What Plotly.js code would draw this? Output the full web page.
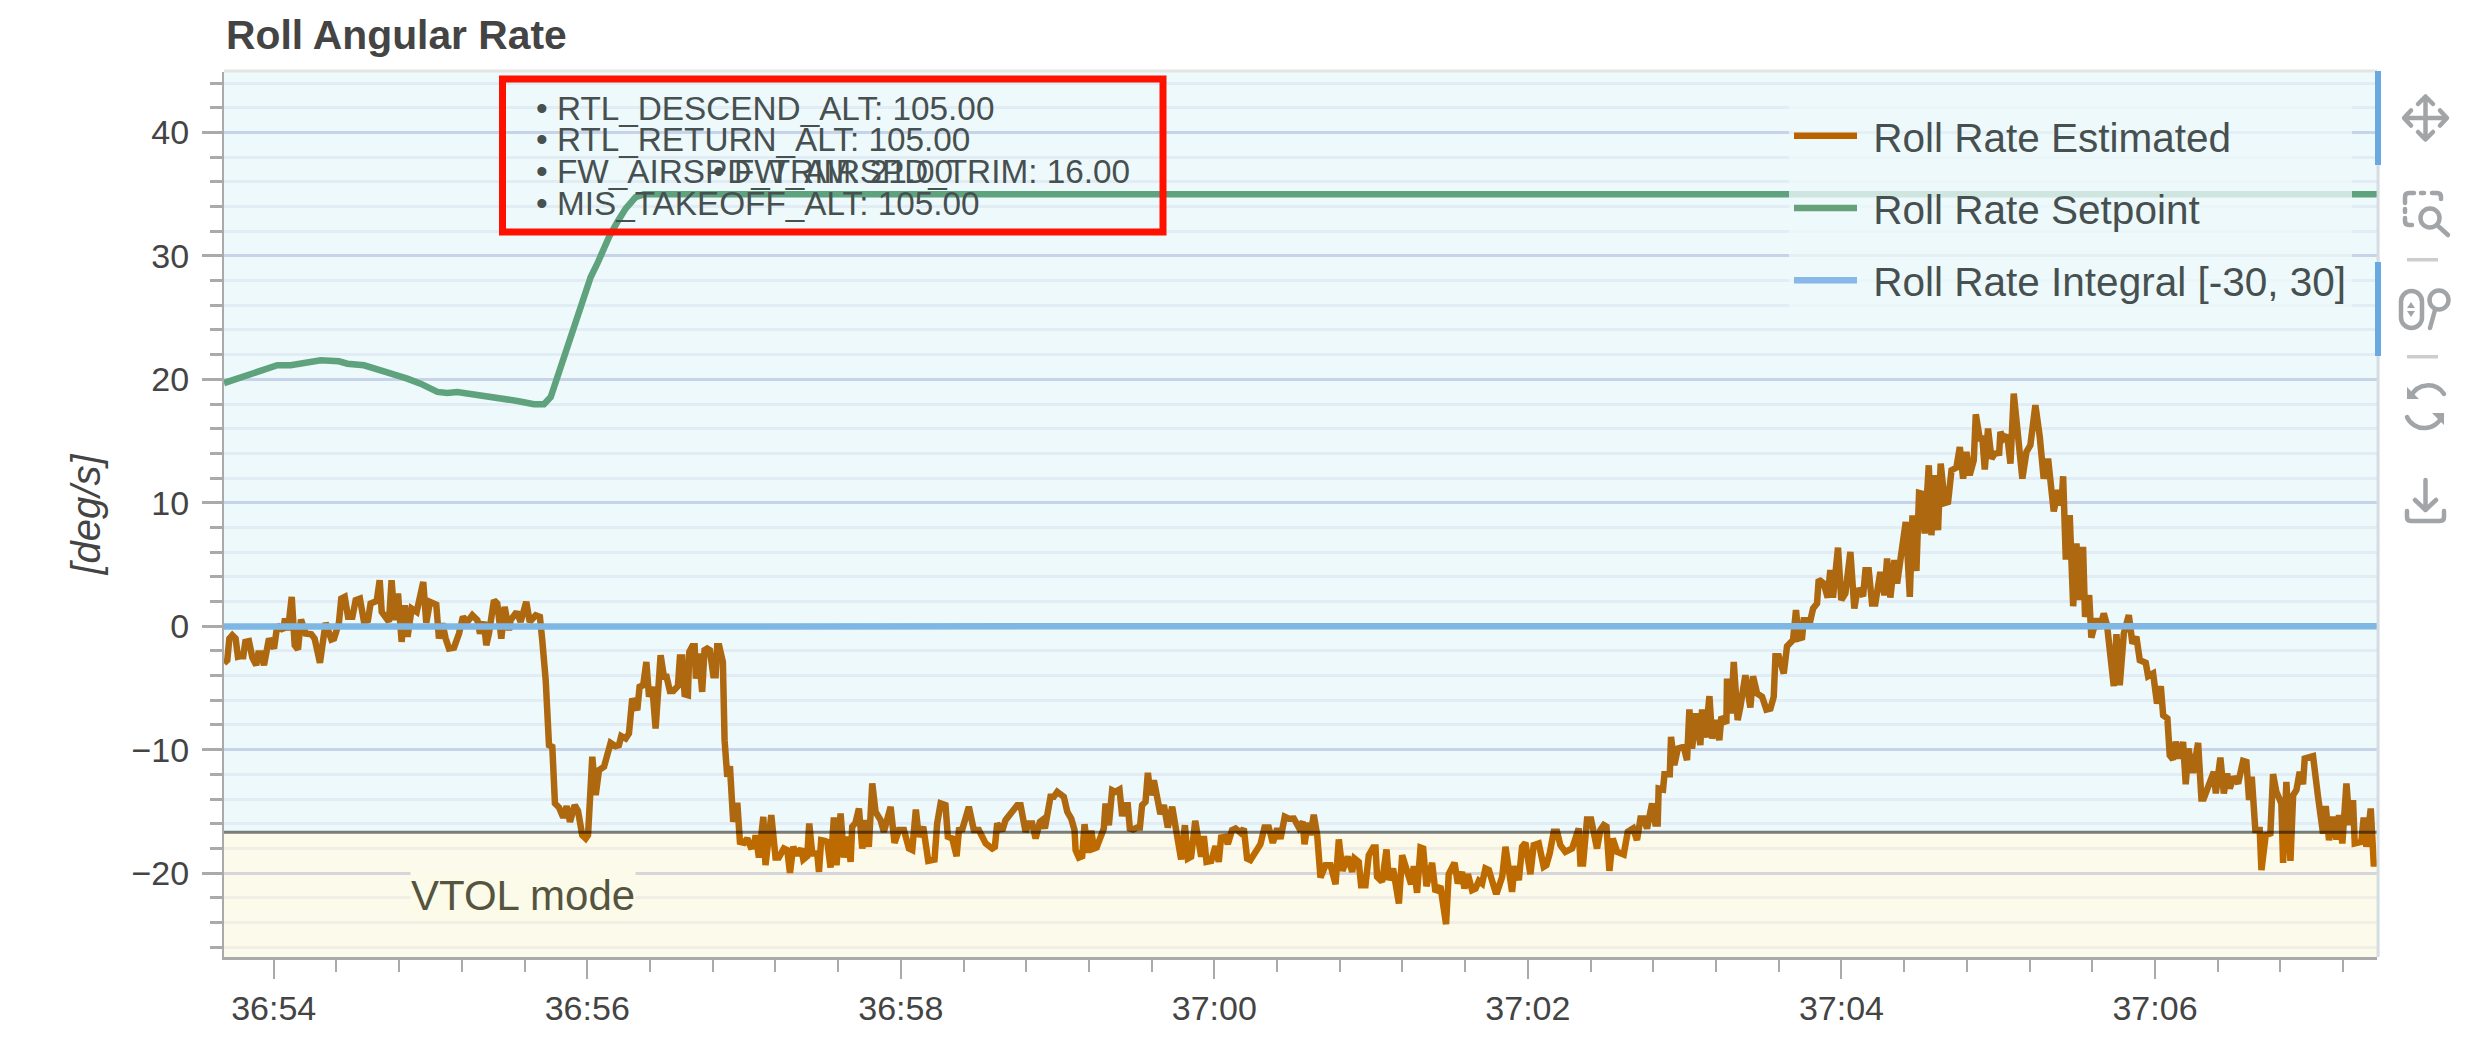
<!DOCTYPE html>
<html><head><meta charset="utf-8">
<script src="https://cdn.plot.ly/plotly-3.0.1.min.js"></script>
<style>html,body{margin:0;padding:0;background:#fff;overflow:hidden}#chart{width:2481px;height:1042px}</style>
</head><body><div id="chart"></div>
<script>
// seconds relative to 36:54
const estimatedT=[-0.317,-0.296,-0.283,-0.264,-0.243,-0.228,-0.211,-0.194,-0.181,-0.158,-0.136,-0.111,-0.098,-0.079,-0.062,-0.030,0.002,0.023,0.061,0.072,0.091,0.115,0.134,0.155,0.174,0.204,0.240,0.261,0.295,0.331,0.368,0.385,0.416,0.431,0.453,0.474,0.502,0.523,0.550,0.576,0.601,0.618,0.657,0.676,0.689,0.735,0.752,0.771,0.793,0.816,0.837,0.854,0.880,0.912,0.954,0.973,0.997,1.037,1.054,1.076,1.097,1.118,1.150,1.182,1.207,1.235,1.267,1.299,1.316,1.341,1.356,1.373,1.405,1.426,1.452,1.473,1.501,1.511,1.550,1.575,1.611,1.633,1.671,1.698,1.713,1.735,1.756,1.777,1.794,1.820,1.847,1.869,1.890,1.920,1.941,1.968,1.990,2.005,2.032,2.054,2.075,2.107,2.149,2.181,2.202,2.217,2.245,2.266,2.287,2.319,2.334,2.357,2.377,2.394,2.415,2.436,2.468,2.489,
2.506,2.527,2.549,2.578,2.591,2.606,2.621,2.642,2.651,2.670,2.685,2.693,2.712,2.733,2.748,2.765,2.782,2.804,2.819,2.829,2.842,2.865,2.876,2.893,2.910,2.931,2.957,2.974,3.000,3.021,3.042,3.063,3.074,3.095,3.123,3.137,3.174,3.201,3.222,3.254,3.276,3.293,3.314,3.339,3.365,3.378,3.403,3.416,3.435,3.467,3.478,3.492,3.514,3.531,3.552,3.573,3.590,3.616,3.637,3.658,3.680,3.690,3.711,3.733,3.754,3.775,3.796,3.818,3.839,3.871,3.892,3.935,3.960,3.988,4.020,4.052,4.073,4.096,4.115,4.143,4.175,4.215,4.232,4.254,4.285,4.300,4.328,4.356,4.371,4.392,4.434,4.466,4.498,4.541,4.583,4.600,4.615,4.647,4.668,4.711,4.743,4.764,4.796,4.817,4.838,4.860,4.887,4.902,4.919,4.955,4.976,4.998,5.040,5.062,5.087,5.108,5.115,5.136,5.157,5.172,5.193,5.215,5.232,5.249,5.274,5.295,
5.306,5.327,5.348,5.369,5.395,5.412,5.427,5.448,5.461,5.482,5.508,5.525,5.539,5.561,5.576,5.593,5.614,5.639,5.656,5.678,5.703,5.731,5.758,5.788,5.812,5.831,5.852,5.878,5.916,5.933,5.950,5.980,6.007,6.028,6.043,6.071,6.086,6.113,6.135,6.167,6.188,6.209,6.230,6.252,6.294,6.320,6.347,6.373,6.401,6.422,6.449,6.475,6.507,6.539,6.564,6.575,6.596,6.613,6.634,6.656,6.677,6.709,6.741,6.773,6.794,6.817,6.851,6.879,6.894,6.921,6.936,6.964,6.985,7.013,7.028,7.038,7.070,7.098,7.113,7.140,7.177,7.198,7.219,7.255,7.272,7.293,7.315,7.332,7.353,7.389,7.410,7.442,7.478,7.495,7.532,7.553,7.580,7.595,7.617,7.644,7.666,7.687,7.708,7.729,7.751,7.793,7.804,7.836,7.857,7.899,7.914,7.942,7.963,7.984,8.016,8.037,8.069,8.101,
8.118,8.139,8.165,8.186,8.207,8.239,8.282,8.314,8.324,8.335,8.352,8.377,8.403,8.441,8.462,8.484,8.501,8.520,8.541,8.569,8.611,8.637,8.671,8.696,8.718,8.739,8.760,8.792,8.813,8.828,8.834,8.862,8.871,8.905,8.913,8.934,8.956,8.994,9.015,9.030,9.047,9.073,9.100,9.111,9.132,9.158,9.175,9.200,9.221,9.234,9.266,9.270,9.296,9.313,9.338,9.355,9.387,9.419,9.436,9.462,9.494,9.521,9.547,9.568,9.579,9.600,9.632,9.653,9.691,9.710,9.727,9.749,9.759,9.802,9.819,9.844,9.855,9.887,9.912,9.929,9.946,9.978,9.999,10.025,10.057,10.082,10.104,10.138,10.153,10.174,10.195,10.216,10.248,10.274,10.291,10.312,10.338,10.355,
10.389,10.410,10.436,10.453,10.478,10.495,10.510,10.531,10.557,10.574,10.591,10.616,10.633,10.659,10.680,10.702,10.733,10.755,10.776,10.797,10.818,10.844,10.857,10.882,10.899,10.914,10.935,10.957,10.978,11.006,11.014,11.035,11.057,11.078,11.099,11.127,11.154,11.180,11.205,11.237,11.265,11.290,11.318,11.354,11.382,11.403,11.414,11.431,11.456,11.478,11.499,11.520,11.541,11.554,11.580,11.594,11.626,11.648,11.673,11.694,11.737,11.754,11.775,11.801,11.833,11.856,11.881,11.903,11.941,11.956,11.988,12.013,12.037,12.052,12.079,12.094,12.115,12.132,12.158,12.179,12.196,12.213,12.243,12.275,12.296,12.311,12.345,12.375,12.388,12.417,12.439,12.460,12.477,12.502,12.530,12.562,12.583,12.600,12.617,12.640,12.668,12.679,12.706,12.736,12.753,12.774,12.806,12.817,12.838,12.864,12.881,12.902,12.923,12.944,12.955,13.008,13.040,13.072,13.089,13.110,13.136,13.157,13.174,13.195,13.221,13.242,13.263,13.274,13.316,13.331,13.348,13.376,13.395,13.416];
const estimatedV=[-3.0,-2.75,-1.0,-0.73,-1.0,-2.48,-2.43,-2.43,-1.27,-1.21,-2.54,-3.16,-2.21,-2.21,-3.16,-1.0,-1.81,0.08,-0.32,0.62,-0.32,2.38,-1.54,-1.89,0.54,-0.59,-0.65,-1.0,-2.97,0.27,-1.08,-1.0,0.27,2.24,2.38,0.76,0.76,2.11,2.24,0.35,0.49,1.84,2.05,3.73,1.16,0.35,3.73,0.49,2.65,-1.27,1.70,-0.86,1.43,1.16,3.59,0.27,1.97,1.75,-1.0,0.22,-1.0,-1.81,-1.73,-0.59,0.76,0.35,0.89,0.49,-0.59,0.35,-1.54,-0.59,2.11,1.84,-1.0,1.57,-0.32,0.49,1.16,0.35,1.97,0.35,0.89,0.76,-1.13,-4.37,-9.64,-9.77,-14.36,-14.69,-15.50,-14.58,-15.85,-14.50,-14.96,-16.93,-17.20,-16.93,-10.58,-13.69,-11.66,-11.39,-9.45,-9.72,-9.64,-8.91,-9.10,-8.69,-5.86,-6.80,-4.91,-4.78,-2.89,-5.72,-4.91,-8.29,-2.35,-4.10,
-4.10,-5.24,-5.24,-4.86,-2.54,-2.54,-5.51,-5.59,-2.08,-1.62,-1.62,-4.24,-2.21,-5.32,-1.94,-1.81,-1.94,-3.97,-3.97,-1.62,-1.62,-2.89,-9.23,-12.20,-11.34,-15.85,-14.31,-17.47,-17.55,-17.20,-17.87,-17.82,-16.93,-18.74,-15.44,-19.36,-15.31,-18.74,-18.74,-18.01,-18.14,-19.98,-17.87,-18.55,-18.01,-18.90,-18.63,-15.98,-18.41,-18.41,-19.90,-17.33,-17.39,-17.47,-19.55,-15.50,-19.36,-15.17,-18.74,-17.06,-19.09,-16.25,-15.93,-14.77,-18.01,-15.71,-17.87,-12.74,-15.04,-15.71,-16.66,-14.63,-17.55,-16.52,-16.52,-18.01,-18.14,-14.85,-17.06,-16.25,-19.01,-18.90,-15.98,-14.36,-14.50,-17.06,-17.20,-18.63,-16.52,-16.47,-14.63,-16.52,-16.52,-17.60,-18.01,-17.87,-15.98,-16.58,-15.71,-15.04,-14.50,-14.50,-16.66,-15.98,-15.98,-17.20,-15.85,-15.71,-16.39,-13.82,-13.82,-13.42,-13.82,-15.04,-15.58,-16.52,-18.14,-18.74,-18.63,-16.04,-18.36,-16.58,-18.01,-17.93,-16.93,-16.39,
-14.37,-16.12,-13.29,-13.42,-13.23,-15.39,-14.50,-14.50,-16.39,-16.47,-16.31,-16.31,-14.50,-14.23,-11.88,-13.69,-12.48,-14.50,-15.23,-14.50,-16.31,-14.63,-16.52,-18.90,-16.12,-18.82,-18.68,-15.77,-18.68,-17.01,-19.09,-19.01,-17.82,-19.09,-17.12,-17.07,-17.66,-16.52,-16.39,-16.74,-16.39,-18.82,-18.95,-18.55,-17.66,-16.31,-16.31,-17.55,-16.39,-17.23,-15.44,-15.60,-15.58,-16.31,-15.85,-17.66,-15.93,-16.93,-15.28,-16.93,-20.36,-19.36,-19.36,-20.90,-17.28,-19.82,-18.68,-19.90,-18.82,-19.09,-20.98,-20.98,-18.55,-17.93,-17.93,-20.30,-20.71,-18.09,-20.57,-19.63,-22.46,-18.55,-19.49,-20.90,-19.44,-21.60,-17.93,-18.01,-21.06,-19.17,-21.52,-21.06,-24.14,-20.09,-19.17,-20.84,-19.90,-21.25,-20.09,-21.38,-21.25,-20.63,-20.84,-19.63,-19.76,-21.52,-21.52,-20.30,-17.87,-21.52,-19.44,-20.57,-17.87,-17.55,-20.09,-17.74,-17.60,-19.49,
-19.36,-18.41,-16.66,-16.66,-17.74,-18.28,-18.01,-16.39,-16.39,-19.22,-19.22,-15.66,-15.66,-18.01,-16.52,-16.12,-16.25,-19.82,-17.20,-18.28,-18.49,-16.66,-16.39,-17.33,-15.58,-15.58,-16.39,-14.36,-15.98,-15.98,-13.15,-13.23,-11.99,-11.99,-8.96,-11.26,-9.91,-9.77,-10.85,-6.75,-9.91,-7.07,-9.64,-6.75,-9.02,-5.67,-9.10,-7.61,-9.23,-7.34,-7.88,-4.24,-7.07,-2.89,-7.61,-6.53,-3.97,-6.59,-4.05,-5.45,-5.72,-6.75,-6.67,-5.72,-2.43,-2.43,-3.83,-1.62,-1.13,1.30,-1.0,-0.92,0.49,0.49,1.43,1.84,3.78,3.46,2.32,4.54,2.32,6.37,2.11,2.65,6.02,1.43,3.05,2.43,4.54,4.54,1.84,1.84,4.40,2.51,5.48,2.32,5.35,3.46,
7.24,8.45,2.38,8.99,4.48,10.80,10.75,7.51,13.04,7.37,12.23,7.78,13.17,9.99,10.07,12.64,12.85,14.52,11.96,14.12,12.23,13.44,17.17,15.20,15.20,12.69,16.01,13.58,13.98,14.04,15.74,15.20,15.47,13.17,18.84,15.60,11.96,14.12,14.66,17.90,15.33,11.96,13.58,9.31,11.02,9.80,12.15,5.40,8.99,1.62,6.70,2.11,6.43,0.76,2.51,-0.92,0.62,-0.19,1.03,0.08,-4.86,-0.65,-4.78,-0.59,0.89,-1.40,-0.86,-2.75,-2.97,-4.05,-3.83,-6.26,-4.86,-7.21,-7.48,-10.45,-10.80,-9.37,-10.72,-9.37,-12.80,-9.91,-11.88,-9.45,-13.96,-13.96,-12.88,-11.80,-13.55,-10.64,-13.55,-11.93,-13.15,-12.20,-12.74,-10.91,-10.99,-14.09,-12.20,-16.52,-16.52,-19.76,-16.93,-16.79,-11.99,-13.42,-14.36,-19.17,-12.61,-19.01,-13.69,-13.28,-11.80,-12.80,-10.72,-10.53,-13.82,-16.79,-14.58,-17.33,-15.44,-17.28,-15.31,-17.60,-12.74,-16.12,-14.09,-17.60,-17.47,-15.50,-17.87,-14.77,-19.22,-19.22];
const setpointT=[-0.317,-0.232,-0.126,-0.041,0.023,0.108,0.215,0.300,0.416,0.470,0.576,0.661,0.703,0.852,0.937,1.044,1.107,1.171,1.256,1.352,1.448,1.554,1.660,1.724,1.767,1.788,1.820,1.852,1.883,1.915,1.958,1.990,2.022,2.064,2.096,2.139,2.192,2.245,2.309,2.362,13.416];
const setpointV=[19.7,20.06,20.6,21.0,21.14,21.14,21.33,21.54,21.46,21.27,21.14,20.87,20.65,20.06,19.65,18.98,18.90,18.98,18.84,18.57,18.47,18.25,17.98,17.98,18.57,19.38,20.46,21.68,23.03,24.24,25.73,27.21,28.29,29.37,30.45,31.53,32.75,33.83,34.77,34.99,34.99];
const integralT=[-0.317,3.0,6.0,9.0,10.9,11.4,12.0,13.416];
const integralV=[-0.02,0.0,0.0,0.0,-0.02,-0.05,-0.01,0.0];
const seriesNames=['\u00a0Roll Rate Estimated','\u00a0Roll Rate Setpoint','\u00a0Roll Rate Integral [-30, 30]'];
const seriesColors=['#bb6200','#65a179','#87b8e8'];
const paramLines=['RTL_DESCEND_ALT: 105.00','RTL_RETURN_ALT: 105.00','FW_AIRSPD_TRIM: 21.00','MIS_TAKEOFF_ALT: 105.00'];
const paramLineExtra='FW_AIRSPD_TRIM: 16.00';
const modeBoundary=-16.69;
const modeLabel='VTOL mode';
const xTickSeconds=2, xMinorSeconds=0.4;
const xRangeSec=[-0.317,13.416], yRange=[-26.8,44.9];

const BASE=2214000; // 00:36:54 in ms
const toX=a=>a.map(s=>BASE+s*1000);
const W=2481,H=1042,L=224,R=2377,T=72,B=957;
const px=x=>(x-L)/(R-L), py=y=>(B-y)/(B-T);
const FONT='"Liberation Sans", Arial, sans-serif';

const traces=[[estimatedT,estimatedV,6.5],[setpointT,setpointV,6.5],[integralT,integralV,6.5]].map((d,i)=>({
  x:toX(d[0]),y:d[1],type:'scatter',mode:'lines',name:seriesNames[i],legendgroup:'g'+i,
  line:{color:seriesColors[i],width:d[2]},hoverinfo:'skip'
}));

const toolbar=`<svg xmlns="http://www.w3.org/2000/svg" width="111" height="470" viewBox="0 0 111 470">
<rect x="37" y="188" width="31" height="3.5" fill="#cdcdcd"/><rect x="37" y="285" width="31" height="3.5" fill="#cdcdcd"/>
<g fill="none" stroke="#a2a5a8" stroke-width="4.5" stroke-linecap="round" stroke-linejoin="round">
<path d="M35 48H76M55.5 28V68M48 34l7.5-7.5L63 34M48 62l7.5 7.5L63 62M41 40.5L34 48l7 7.5M70 40.5L77 48l-7 7.5"/>
<path d="M35 133v-6q0-4 4-4h5M51 123h3M62 123h5q4 0 4 4v2M35 139v3M35 148v3q0 4 4 4h3"/>
<circle cx="60" cy="148" r="9.5"/><path d="M67 155l11 10"/>
<rect x="31" y="221" width="21" height="37" rx="10.5"/><circle cx="69" cy="230" r="9.5"/><path d="M65 240l-5 18"/>
<path d="M74 324a19 19 0 0 0-33 2M37 347a19 19 0 0 0 35 -1"/>
<path d="M55.5 410v29M45 430l10.5 10L66 430M37 441v6q0 4 4 4h29q4 0 4-4v-6"/></g>
<g fill="#a2a5a8"><path d="M37 317v12h12zM74 355v-12h-12zM37 238h8l-4-6zM37 241h8l-4 6z"/></g></svg>`;

const shapes=[
 {type:'rect',xref:'paper',yref:'y',x0:0,x1:1,y0:modeBoundary,y1:yRange[1],fillcolor:'rgba(30,180,190,0.08)',line:{width:0},layer:'above'},
 {type:'rect',xref:'paper',yref:'y',x0:0,x1:1,y0:yRange[0],y1:modeBoundary,fillcolor:'rgba(220,205,0,0.08)',line:{width:0},layer:'above'},
 {type:'line',xref:'paper',yref:'y',x0:0,x1:1,y0:modeBoundary,y1:modeBoundary,line:{color:'rgba(0,0,0,0.5)',width:3},layer:'above'},
 {type:'line',xref:'paper',yref:'paper',x0:0,x1:1,y0:1.001,y1:1.001,line:{color:'#e4e4e0',width:3},layer:'above'},
 {type:'line',xref:'paper',yref:'paper',x0:1.0005,x1:1.0005,y0:0,y1:1,line:{color:'#d5dde2',width:3},layer:'above'},
 {type:'rect',xref:'paper',yref:'paper',x0:px(2375),x1:px(2381),y0:py(165),y1:py(71),fillcolor:'#6aa8e2',line:{width:0},layer:'above'},
 {type:'rect',xref:'paper',yref:'paper',x0:px(2375),x1:px(2381),y0:py(356),y1:py(262),fillcolor:'#6aa8e2',line:{width:0},layer:'above'},
 {type:'rect',xref:'paper',yref:'paper',x0:px(502.5),x1:px(1163),y0:py(232),y1:py(79),line:{color:'#ff1100',width:7},fillcolor:'rgba(0,0,0,0)',layer:'above'}
];

const ann=[];
const addText=(text,x,y)=>ann.push({xref:'paper',yref:'paper',x:px(x),y:py(y),xanchor:'left',yanchor:'middle',showarrow:false,text,font:{family:FONT,size:33.3,color:'#475050'}});
const rowsY=[108,139,171,203];
paramLines.forEach((t,i)=>{addText('•',534,rowsY[i]);addText(t,555,rowsY[i]);});
addText('•',711,172);addText(paramLineExtra,732,172);
ann.push({xref:'x',yref:'y',x:BASE+1.59*1000,y:-21.85,xanchor:'center',yanchor:'middle',showarrow:false,text:modeLabel,
  bgcolor:'#fcfbea',borderpad:0,font:{family:FONT,size:42,color:'#55553f'}});

const layout={
 width:W,height:H,margin:{l:L,r:W-R,t:T,b:H-B,pad:0},paper_bgcolor:'#fff',plot_bgcolor:'#fff',hovermode:false,
 title:{text:'Roll Angular Rate',x:226/W,xref:'container',xanchor:'left',y:1-34.5/H,yref:'container',yanchor:'middle',font:{family:FONT,size:40.8,weight:'bold',color:'#444'}},
 font:{family:FONT,color:'#444'},
 xaxis:{type:'date',range:[BASE+xRangeSec[0]*1000,BASE+xRangeSec[1]*1000],tick0:BASE,dtick:xTickSeconds*1000,tickformat:'%M:%S',showgrid:false,zeroline:false,
   showline:true,linecolor:'#aaa',linewidth:3,ticks:'outside',ticklen:19,tickwidth:2,tickcolor:'#aaa',ticklabelstandoff:0,tickfont:{family:FONT,size:34,color:'#444'},
   minor:{tick0:BASE,dtick:xMinorSeconds*1000,ticks:'outside',ticklen:12,tickwidth:2,tickcolor:'#aaa',showgrid:false}},
 yaxis:{range:yRange,tick0:0,dtick:10,zeroline:false,showgrid:true,gridcolor:'#d6d6ec',gridwidth:3,showline:true,linecolor:'#aaa',linewidth:2,
   ticks:'outside',ticklen:20,tickwidth:3,tickcolor:'#aaa',ticklabelstandoff:6,tickfont:{family:FONT,size:34,color:'#444'},
   title:{text:'[deg/s]',standoff:19,font:{family:FONT,size:40,style:'italic',color:'#444'}},
   minor:{tick0:0,dtick:2,ticks:'outside',ticklen:12,tickwidth:3,tickcolor:'#aaa',showgrid:true,gridcolor:'#f3f1fa',gridwidth:3}},
 legend:{x:px(1789),xanchor:'left',y:py(103),yanchor:'top',bgcolor:'rgba(237,249,250,0.78)',borderwidth:0,itemwidth:63,traceorder:'grouped',tracegroupgap:16.6,itemclick:false,itemdoubleclick:false,
   font:{family:FONT,size:40.5,color:'#475050'}},
 shapes,annotations:ann,
 images:[{source:'data:image/svg+xml;charset=utf-8,'+encodeURIComponent(toolbar),xref:'paper',yref:'paper',x:px(2370),y:py(70),sizex:111/(R-L),sizey:470/(B-T),xanchor:'left',yanchor:'top',sizing:'stretch',layer:'above'}]
};
Plotly.newPlot('chart',traces,layout,{displayModeBar:false,responsive:false});
</script></body></html>
